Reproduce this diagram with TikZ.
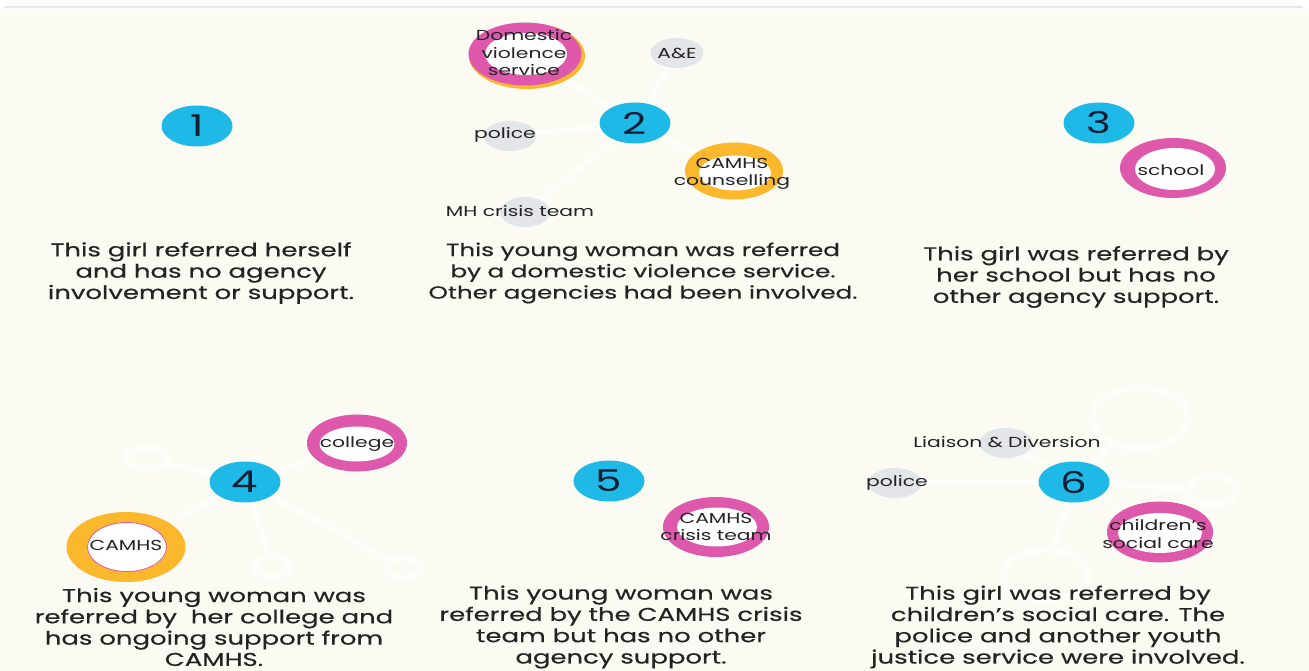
\documentclass[tikz,border=0pt]{standalone}
\usepackage{fontspec}
\setmainfont{Poppins}[FakeStretch=1.4]
\newfontfamily\bodyfont{Poppins}[FakeStretch=1.4, FakeBold=0.5]
\usetikzlibrary{shapes.geometric}
\definecolor{bgC}{RGB}{251,251,244}
\definecolor{cyanC}{RGB}{30,185,230}
\definecolor{pinkC}{RGB}{222,88,172}
\definecolor{orangeC}{RGB}{251,184,44}
\definecolor{greyC}{RGB}{227,230,233}
\definecolor{txtC}{RGB}{35,35,35}
\definecolor{numC}{RGB}{15,30,50}
\definecolor{topC}{RGB}{230,230,230}
\colorlet{faintC}{white!55!bgC}
\pgfdeclarelayer{back}
\pgfsetlayers{back,main}
\tikzset{
  num/.style={ellipse, fill=cyanC, minimum width=71pt, minimum height=41pt, inner sep=0pt,
    text=numC, font=\fontsize{30}{30}\selectfont},
  outP/.style={ellipse, fill=pinkC, inner sep=0pt},
  outO/.style={ellipse, fill=orangeC, inner sep=0pt},
  inW/.style={ellipse, fill=white, inner sep=0pt},
  ringW/.style={ellipse, draw=faintC, line width=7pt, inner sep=0pt},
  greyB/.style={ellipse, fill=greyC, minimum width=53pt, minimum height=30pt, inner sep=0pt},
  agt/.style={font=\fontsize{14.5}{17.5}\selectfont, align=center, text=txtC, inner sep=0pt},
  body/.style={font=\bodyfont\fontsize{18.5}{21.3}\selectfont, align=center, text=txtC, inner sep=0pt},
  conn/.style={draw=faintC, line width=6pt},
}
\begin{document}
\begin{tikzpicture}[x=1pt,y=-1pt]
\useasboundingbox (0,0) rectangle (1309,671);
% ---------- panel 1
\node[num] (n1) at (197,126) {1};
\node[body] (t1) at (201,273) {This girl referred herself\\and has no agency\\involvement or support.};
% ---------- panel 2
\node[num] (n2) at (635,123) {2};
\node[outO, minimum width=116pt, minimum height=66pt] (dvo) at (527,56) {};
\node[outP, minimum width=113pt, minimum height=63pt] (dv) at (525,54) {};
\node[inW, minimum width=82pt, minimum height=42pt] (dvi) at (526,54) {};
\node[agt] (dvt) at (524,53) {Domestic\\violence\\service};
\node[greyB] (ae) at (677,53) {};
\node[agt] (aet) at (ae) {A\&E};
\node[greyB] (po2) at (510,136) {};
\node[agt] (po2t) at (505,135) {police};
\node[outO, minimum width=98pt, minimum height=57pt] (cc) at (734,171) {};
\node[inW, minimum width=72pt, minimum height=35pt] (cci) at (735,173) {};
\node[agt] (cct) at (732,174) {CAMHS\\counselling};
\node[greyB, minimum width=50pt] (mh) at (525,212) {};
\node[agt] (mht) at (520,211) {MH crisis team};
\node[body, font=\bodyfont\fontsize{17.6}{21.3}\selectfont] (t2) at (643,273) {This young woman was referred\\by a domestic violence service.\\Other agencies had been involved.};
% ---------- panel 3
\node[num] (n3) at (1099,123) {3};
\node[outP, minimum width=106pt, minimum height=60pt] (sc) at (1173,168) {};
\node[inW, minimum width=80pt, minimum height=42pt] (sci) at (1175,169) {};
\node[agt] (sct) at (1171,170) {school};
\node[body] (t3) at (1076,277) {This girl was referred by\\her school but has no\\other agency support.};
% ---------- panel 4
\node[num] (n4) at (245,482) {4};
\node[outP, minimum width=100pt, minimum height=57pt] (co) at (357,443) {};
\node[inW, minimum width=75pt, minimum height=35pt] (coi) at (357,444) {};
\node[agt] (cot) at (357,444) {college};
\node[outO, minimum width=119pt, minimum height=70pt] (ca) at (126,547) {};
\node[inW, draw=pinkC, line width=0.8pt, minimum width=79pt, minimum height=49pt] (cai) at (127,547) {};
\node[agt] (cat) at (126,545) {CAMHS};
\node[ringW, minimum width=42pt, minimum height=20pt] (w41) at (146,458) {};
\node[ringW, minimum width=36pt, minimum height=20pt] (w42) at (272,566) {};
\node[ringW, minimum width=36pt, minimum height=20pt] (w43) at (404,568) {};
\node[body] (t4) at (214,627) {This young woman was\\referred by\ \ her college and\\has ongoing support from\\CAMHS.};
% ---------- panel 5
\node[num] (n5) at (609,481) {5};
\node[outP, minimum width=106pt, minimum height=60pt] (ct) at (716,527) {};
\node[inW, minimum width=80pt, minimum height=39pt] (cti) at (717,527) {};
\node[agt] (ctt) at (716,527) {CAMHS\\crisis team};
\node[body] (t5) at (621,627) {This young woman was\\referred by the CAMHS crisis\\team but has no other\\agency support.};
% ---------- panel 6
\node[num] (n6) at (1074,482) {6};
\node[greyB] (ld) at (1006,443) {};
\node[agt] (ldt) at (1007,442) {Liaison \& Diversion};
\node[greyB] (po6) at (895,483) {};
\node[agt] (po6t) at (897,483) {police};
\node[outP, minimum width=106pt, minimum height=61pt] (cs) at (1160,532) {};
\node[inW, minimum width=84pt, minimum height=40pt] (csi) at (1160,533) {};
\node[agt] (cst) at (1158,534) {children’s\\social care};
\node[ringW, minimum width=95pt, minimum height=60pt] (w61) at (1140,418) {};
\node[ringW, minimum width=48pt, minimum height=30pt] (w62) at (1213,490) {};
\node[ringW, minimum width=85pt, minimum height=50pt] (w63) at (1045,575) {};
\node[body] (t6) at (1058,627) {This girl was referred by\\children’s social care. The\\police and another youth\\justice service were involved.};
% ---------- background and connectors
\begin{pgfonlayer}{back}
\fill[white] (0,0) rectangle (1309,671);
\fill[bgC] (0,9) rectangle (1309,671);
\draw[topC, line width=2pt] (4,7.5) -- (1303,7.5);
\draw[conn] (n2) -- (dv);
\draw[conn] (n2) -- (ae);
\draw[conn] (n2) -- (po2);
\draw[conn] (n2) -- (mh);
\draw[conn] (n2) -- (cc);
\draw[conn] (n4) -- (co);
\draw[conn] (n4) -- (ca);
\draw[conn] (n4) -- (w41);
\draw[conn] (n4) -- (w42);
\draw[conn] (n4) -- (w43);
\draw[conn] (n6) -- (ld);
\draw[conn] (n6) -- (po6);
\draw[conn] (n6) -- (cs);
\draw[conn] (n6) -- (w61);
\draw[conn] (n6) -- (w62);
\draw[conn] (n6) -- (w63);
\end{pgfonlayer}
\end{tikzpicture}
\end{document}
